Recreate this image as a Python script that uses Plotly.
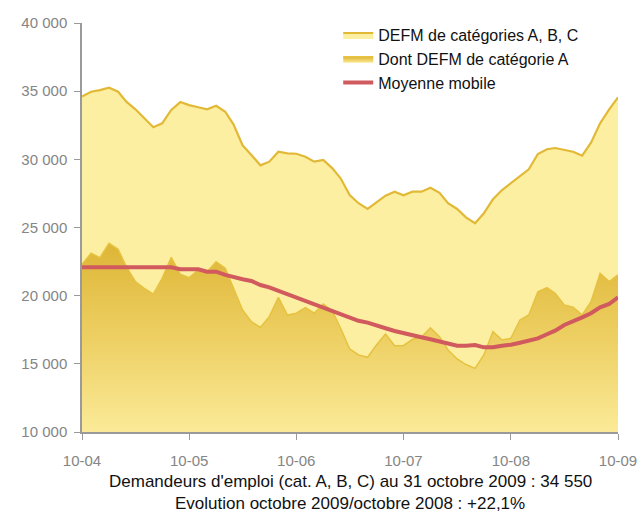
import pandas as pd
import plotly.graph_objects as go

# Monthly data, October 2004 -> October 2009
months = pd.date_range("2004-10-01", "2009-10-01", freq="MS")

defm_abc = [
    34600, 34960, 35080, 35250, 34960, 34230, 33670, 33030, 32350, 32640,
    33620, 34200, 33980, 33820, 33670, 33930, 33490, 32570, 31030, 30320,
    29560, 29830, 30560, 30440, 30410, 30190, 29830, 29950, 29340, 28610,
    27380, 26780, 26360, 26850, 27330, 27630, 27360, 27630, 27630, 27920,
    27550, 26780, 26360, 25740, 25310, 26040, 27070, 27750, 28240, 28780,
    29270, 30390, 30740, 30830, 30690, 30560, 30270, 31220, 32640, 33670,
    34550,
]

defm_a = [
    22300, 23110, 22790, 23840, 23400, 22130, 21030, 20540, 20120, 21270,
    22810, 21570, 21320, 21880, 21760, 22490, 22010, 20540, 18950, 18090,
    17680, 18460, 19870, 18580, 18710, 19120, 18710, 19390, 18880, 17610,
    16090, 15650, 15480, 16380, 17190, 16330, 16330, 16800, 16950, 17650,
    16990, 16020, 15360, 14950, 14670, 15650, 17360, 16750, 16870, 18220,
    18580, 20290, 20590, 20170, 19320, 19150, 18580, 19560, 21640, 21030,
    21520,
]

moyenne = [
    22080, 22080, 22080, 22080, 22080, 22080, 22080, 22080, 22080, 22080,
    22080, 21940, 21940, 21940, 21760, 21760, 21520, 21350, 21200, 21080,
    20780, 20610, 20360, 20100, 19880, 19610, 19440, 19190, 18880, 18710,
    18460, 18160, 18020, 17850, 17610, 17410, 17280, 17120, 16950, 16800,
    16620, 16510, 16330, 16330, 16380, 16210, 16210, 16330, 16400, 16550,
    16700, 16870, 17170, 17430, 17850, 18090, 18410, 18710, 19150, 19390,
    19880,
]

fig = go.Figure()

fig.add_trace(go.Scatter(
    x=months, y=defm_abc, name="DEFM de catégories A, B, C",
    mode="lines", fill="tozeroy",
    line=dict(color="#E2B936", width=2.2),
    fillcolor="#FDEFA1",
))

fig.add_trace(go.Scatter(
    x=months, y=defm_a, name="Dont DEFM de catégorie A",
    mode="lines", fill="tozeroy",
    line=dict(color="#E6C240", width=1.5),
    fillgradient=dict(
        type="vertical", start=10000, stop=24000,
        colorscale=[[0, "#FBEA98"], [0.5, "#EDCF62"], [1, "#DDB535"]],
    ),
))

fig.add_trace(go.Scatter(
    x=months, y=moyenne, name="Moyenne mobile",
    mode="lines",
    line=dict(color="#D05A5E", width=4),
))

axis_color = "#9A9A9A"

fig.update_layout(
    width=642, height=514,
    plot_bgcolor="white", paper_bgcolor="white",
    margin=dict(l=82, r=24, t=23, b=82, autoexpand=False),
    font=dict(family="Liberation Sans, Arial, sans-serif", size=14, color="#111111"),
    separators=", ",
    showlegend=True,
    legend=dict(
        x=0.478, y=1.012, xanchor="left", yanchor="top",
        bgcolor="rgba(0,0,0,0)", font=dict(size=16),
        tracegroupgap=0,
    ),
    xaxis=dict(
        range=["2004-10-01", "2009-10-01"],
        tick0="2004-10-01", dtick="M12", tickformat="%m-%y",
        showgrid=False, zeroline=False,
        showline=True, linecolor=axis_color, linewidth=1.5,
        ticks="outside", ticklen=6, tickcolor=axis_color,
        ticklabelstandoff=8,
        tickfont=dict(size=15, color="#858585"),
    ),
    yaxis=dict(
        range=[10000, 40000], dtick=5000, tickformat=",d",
        showgrid=False, zeroline=False,
        showline=True, linecolor=axis_color, linewidth=1.5,
        ticks="outside", ticklen=6, tickcolor=axis_color,
        ticklabelstandoff=4,
        tickfont=dict(size=15, color="#858585"),
    ),
    annotations=[
        dict(
            text="Demandeurs d'emploi (cat. A, B, C) au 31 octobre 2009 : 34 550",
            xref="paper", yref="paper", x=0.5, y=-0.12,
            xanchor="center", yanchor="middle", showarrow=False,
            font=dict(size=17, color="#111111"),
        ),
        dict(
            text="Evolution octobre 2009/octobre 2008 : +22,1%",
            xref="paper", yref="paper", x=0.5, y=-0.174,
            xanchor="center", yanchor="middle", showarrow=False,
            font=dict(size=17, color="#111111"),
        ),
    ],
)

# drop the default 8px page margin so the 642x514 figure fills the window
fig.write_html(
    "out.html",
    config={"displayModeBar": False},
    post_script="document.body.style.margin = '0';",
)
